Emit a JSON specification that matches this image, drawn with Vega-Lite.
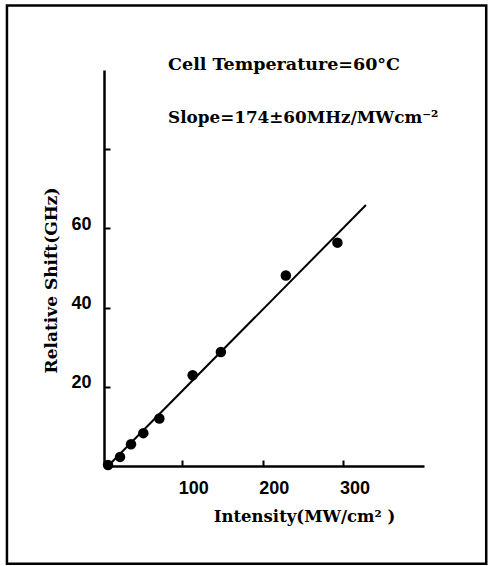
{
  "$schema": "https://vega.github.io/schema/vega-lite/v6.json",
  "width": 320,
  "height": 396,
  "autosize": "none",
  "padding": {"left": 104, "top": 70, "right": 64, "bottom": 100},
  "background": "white",
  "config": {"view": {"stroke": null}},
  "datasets": {
    "points": [
      {"intensity": 8, "shift": 0.25},
      {"intensity": 22.9, "shift": 2.3},
      {"intensity": 36.5, "shift": 5.5},
      {"intensity": 51.8, "shift": 8.3},
      {"intensity": 71.7, "shift": 12.0},
      {"intensity": 113, "shift": 22.9},
      {"intensity": 148, "shift": 28.8},
      {"intensity": 228.6, "shift": 48.1},
      {"intensity": 292.6, "shift": 56.4}
    ],
    "fit": [
      {"intensity": 8, "shift": 0},
      {"intensity": 328, "shift": 65.9}
    ]
  },
  "layer": [
    {
      "data": {"name": "points"},
      "mark": {"type": "point", "filled": true, "shape": "circle", "color": "black", "opacity": 1, "size": 110},
      "encoding": {
        "x": {
          "field": "intensity", "type": "quantitative",
          "scale": {"domain": [3, 400], "nice": false, "zero": false},
          "axis": {
            "values": [100, 200, 300],
            "grid": false,
            "domainColor": "black", "domainWidth": 2.5,
            "tickColor": "black", "tickWidth": 2, "tickSize": -6,
            "labelFont": "Liberation Sans", "labelFontWeight": "bold", "labelFontSize": 18, "labelColor": "black",
            "labelOffset": 11, "labelPadding": 19,
            "title": "Intensity(MW/cm² )",
            "titleFont": "DejaVu Serif", "titleFontWeight": "bold", "titleFontSize": 16.5, "titleColor": "black",
            "titleX": 200, "titleY": 50, "titleBaseline": "middle"
          }
        },
        "y": {
          "field": "shift", "type": "quantitative",
          "scale": {"domain": [0, 100], "nice": false},
          "axis": {
            "values": [20, 40, 60, 80],
            "labelExpr": "datum.value <= 60 ? datum.label : ''",
            "grid": false,
            "domainColor": "black", "domainWidth": 2.5,
            "tickColor": "black", "tickWidth": 2, "tickSize": -6,
            "labelFont": "Liberation Sans", "labelFontWeight": "bold", "labelFontSize": 18, "labelColor": "black",
            "labelPadding": 19, "labelOffset": -4,
            "title": "Relative Shift(GHz)",
            "titleFont": "DejaVu Serif", "titleFontWeight": "bold", "titleFontSize": 17, "titleColor": "black",
            "titleX": -53, "titleY": 210, "titleBaseline": "middle", "titleAngle": 270
          }
        }
      }
    },
    {
      "data": {"name": "fit"},
      "mark": {"type": "line", "color": "black", "strokeWidth": 2},
      "encoding": {
        "x": {"field": "intensity", "type": "quantitative", "scale": {"domain": [3, 400], "nice": false, "zero": false}},
        "y": {"field": "shift", "type": "quantitative", "scale": {"domain": [0, 100], "nice": false}}
      }
    },
    {
      "data": {"values": [{}]},
      "mark": {"type": "rect", "fill": null, "stroke": "black", "strokeWidth": 2.5},
      "encoding": {
        "x": {"datum": -117.4, "type": "quantitative", "scale": {"domain": [3, 400], "nice": false, "zero": false}},
        "x2": {"datum": 477.2},
        "y": {"datum": 116.3, "type": "quantitative", "scale": {"domain": [0, 100], "nice": false}},
        "y2": {"datum": -24.7}
      }
    },
    {
      "data": {"values": [{}]},
      "mark": {"type": "text", "align": "left", "baseline": "middle", "font": "DejaVu Serif", "fontWeight": "bold", "fontSize": 17.5, "color": "black"},
      "encoding": {
        "x": {"datum": 82.5, "type": "quantitative", "scale": {"domain": [3, 400], "nice": false, "zero": false}},
        "y": {"datum": 101.2, "type": "quantitative", "scale": {"domain": [0, 100], "nice": false}},
        "text": {"value": "Cell Temperature=60°C"}
      }
    },
    {
      "data": {"values": [{}]},
      "mark": {"type": "text", "align": "left", "baseline": "middle", "font": "DejaVu Serif", "fontWeight": "bold", "fontSize": 16.8, "color": "black"},
      "encoding": {
        "x": {"datum": 82.5, "type": "quantitative", "scale": {"domain": [3, 400], "nice": false, "zero": false}},
        "y": {"datum": 87.8, "type": "quantitative", "scale": {"domain": [0, 100], "nice": false}},
        "text": {"value": "Slope=174±60MHz/MWcm⁻²"}
      }
    }
  ]
}
